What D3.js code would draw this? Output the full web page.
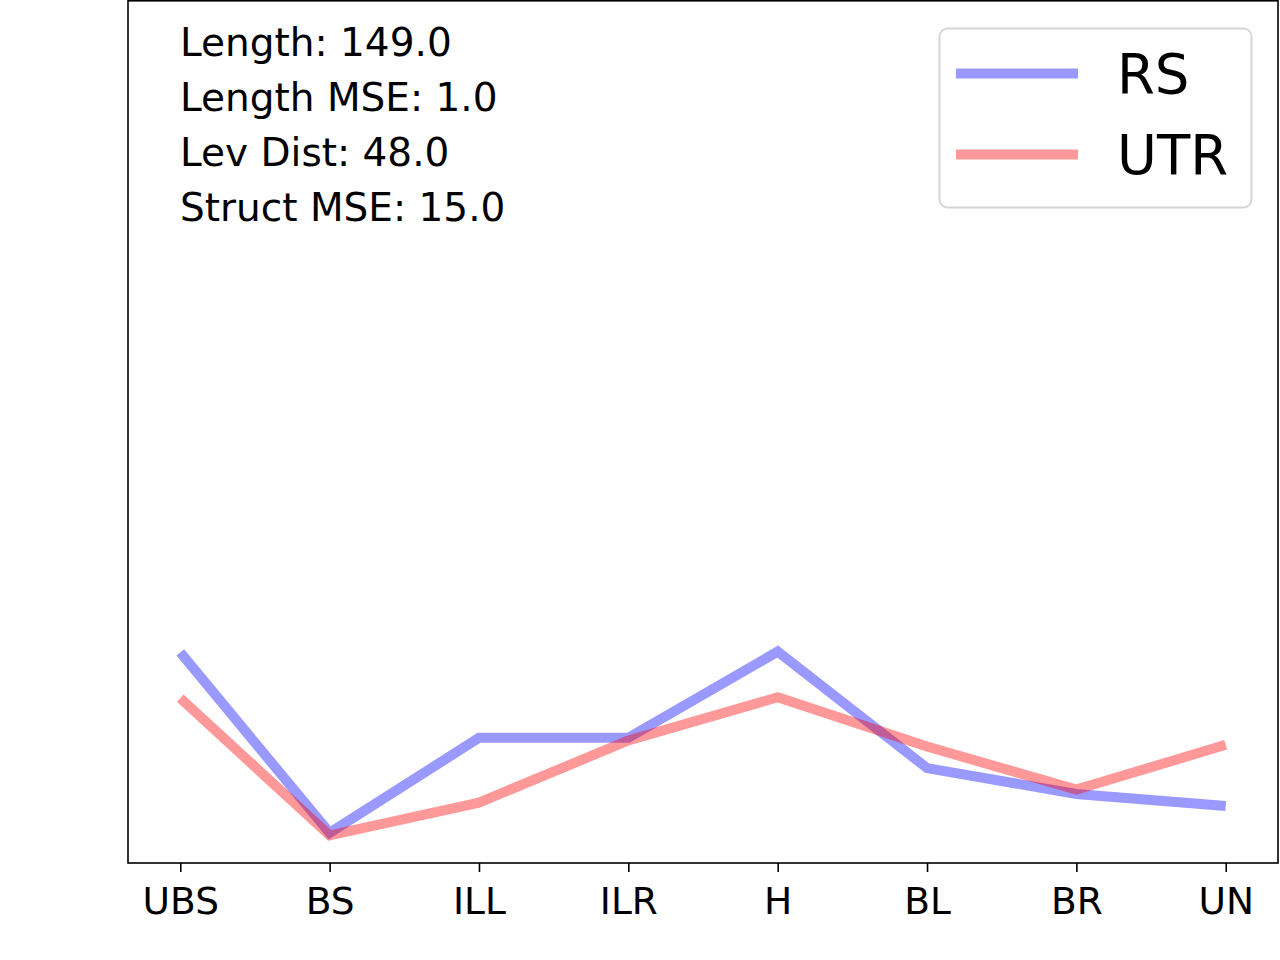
<!DOCTYPE html>
<html lang="en">
	<head>
		<meta charset="utf-8">
		<title>RS vs UTR structure profile</title>
        <script type="text/javascript" src="https://cdn.jsdelivr.net/npm/d3@7"></script>
        <style>
            body { margin: 0; background: #fff; }
            text { font-family: "DejaVu Sans", sans-serif; }
        </style>
	</head>
	<body>
        <script type="text/javascript">
            var categories = ['UBS', 'BS', 'ILL', 'ILR', 'H', 'BL', 'BR', 'UN'];
            var rsValues = [24.4, 3.5, 14.5, 14.5, 24.5, 11.0, 8.0, 6.6];
            var utrValues = [19.1, 3.2, 7.0, 14.2, 19.2, 13.5, 8.5, 13.7];
            var seriesNames = ['RS', 'UTR'];
            var statLines = ['Length: 149.0', 'Length MSE: 1.0', 'Lev Dist: 48.0', 'Struct MSE: 15.0'];

            var w = 1280;
            var h = 960;
            // plot box
            var plotLeft = 128, plotRight = 1278, plotTop = 0, plotBottom = 863;

            var svg = d3.select('body')
                        .append('svg')
                        .attr('width', w)
                        .attr('height', h);

            // matplotlib style 5% margins on x
            var n = categories.length - 1;
            var x = d3.scaleLinear()
                        .domain([-0.05 * n, n * 1.05])
                        .range([plotLeft, plotRight]);

            var y = d3.scaleLinear()
                        .domain([0, 100])
                        .range([plotBottom, plotTop]);

            var line = d3.line()
                            .x(function(d, i) { return x(i); })
                            .y(function(d) { return y(d); });

            var series = [
                { name: 'RS', values: rsValues, color: 'blue' },
                { name: 'UTR', values: utrValues, color: 'red' }
            ];

            svg.selectAll('path.series')
                .data(series)
                .enter()
                .append('path')
                .attr('class', 'series')
                .attr('d', function(d) { return line(d.values); })
                .attr('fill', 'none')
                .attr('stroke', function(d) { return d.color; })
                .attr('stroke-opacity', 0.4)
                .attr('stroke-width', 10)
                .attr('stroke-linejoin', 'miter')
                .attr('stroke-linecap', 'butt');

            // frame
            svg.append('rect')
                .attr('x', plotLeft)
                .attr('y', plotTop + 0.8)
                .attr('width', plotRight - plotLeft)
                .attr('height', plotBottom - plotTop - 0.8)
                .attr('fill', 'none')
                .attr('stroke', '#000')
                .attr('stroke-width', 1.6);

            var xAxis = d3.axisBottom(x)
                            .tickValues(d3.range(categories.length))
                            .tickFormat(function(i) { return categories[i]; })
                            .tickSize(9)
                            .tickPadding(15);

            var gx = svg.append('g')
                .attr('transform', 'translate(0,' + plotBottom + ')')
                .call(xAxis);
            gx.select('.domain').remove();
            gx.selectAll('line').attr('stroke', '#000').attr('stroke-width', 1.6);
            gx.selectAll('text')
                .style('font-size', '37.5px')
                .attr('fill', '#000')
                .attr('font-family', 'DejaVu Sans');

            svg.selectAll('text.stat')
                .data(statLines)
                .enter()
                .append('text')
                .attr('class', 'stat')
                .attr('x', 180)
                .attr('y', function(d, i) { return 56 + i * 55; })
                .style('font-size', '39px')
                .text(function(d) { return d; });

            // legend
            var legend = svg.append('g');
            legend.append('rect')
                .attr('x', 939.5)
                .attr('y', 28.5)
                .attr('width', 312)
                .attr('height', 179)
                .attr('rx', 8)
                .attr('fill', '#fff')
                .attr('fill-opacity', 0.8)
                .attr('stroke', '#d6d6d6')
                .attr('stroke-width', 2);

            var items = legend.selectAll('g.item')
                .data(series)
                .enter()
                .append('g')
                .attr('class', 'item')
                .attr('transform', function(d, i) { return 'translate(0,' + (73.5 + i * 81) + ')'; });

            items.append('line')
                .attr('x1', 956)
                .attr('x2', 1078)
                .attr('stroke', function(d) { return d.color; })
                .attr('stroke-opacity', 0.4)
                .attr('stroke-width', 10);

            items.append('text')
                .attr('x', 1117)
                .attr('y', 19)
                .style('font-size', '54.5px')
                .text(function(d, i) { return seriesNames[i]; });
		</script>
	</body>
</html>
